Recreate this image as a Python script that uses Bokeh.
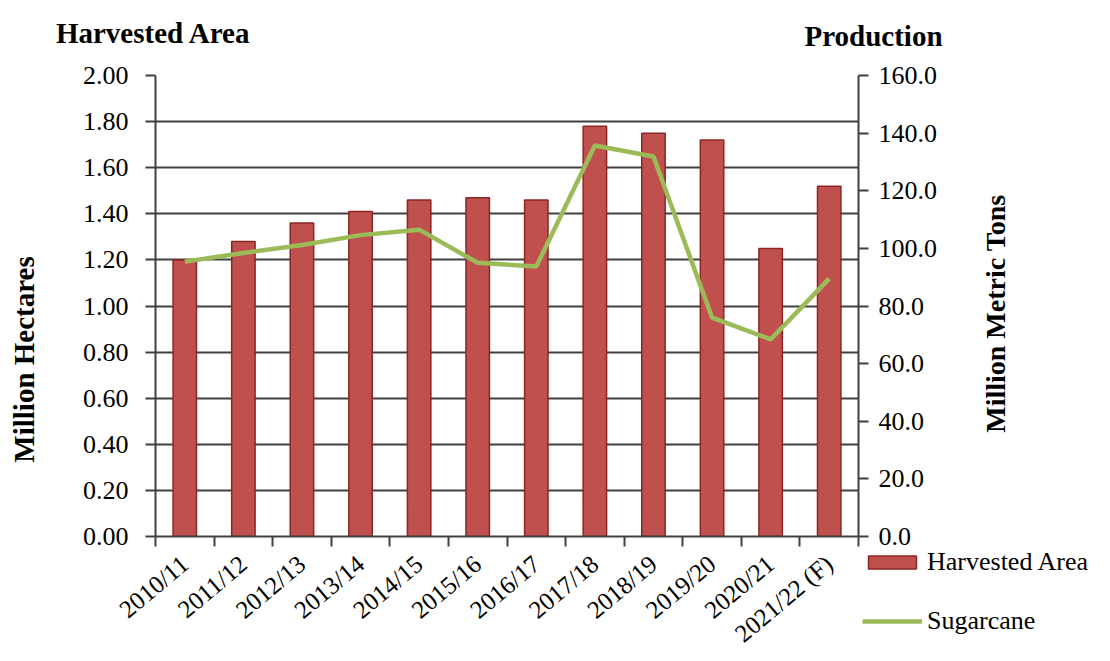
import math
from bokeh.plotting import figure
from bokeh.models import (Range1d, LinearAxis, FixedTicker, Label, Legend, LegendItem,
                          ColumnDataSource, NumeralTickFormatter)
from bokeh.embed import file_html
from bokeh.resources import INLINE

categories = ["2010/11", "2011/12", "2012/13", "2013/14", "2014/15", "2015/16",
              "2016/17", "2017/18", "2018/19", "2019/20", "2020/21", "2021/22 (F)"]
harvested_area = [1.20, 1.28, 1.36, 1.41, 1.46, 1.47, 1.46, 1.78, 1.75, 1.72, 1.25, 1.52]
sugarcane = [95.4, 98.4, 101.2, 104.6, 106.5, 95.0, 93.7, 135.7, 131.9, 76.0, 68.4, 89.5]
left_ticks = [0.0, 0.2, 0.4, 0.6, 0.8, 1.0, 1.2, 1.4, 1.6, 1.8, 2.0]
right_ticks = [0, 20, 40, 60, 80, 100, 120, 140, 160]

FONT = "Liberation Serif"
AXC = "#404040"
BAR_FILL = "#C0504D"
BAR_LINE = "#8A2624"
LINE_COL = "#9BBB59"
W, H = 1110, 661

xs = [i + 0.5 for i in range(len(categories))]
src = ColumnDataSource(dict(x=xs, area=harvested_area, cane=sugarcane))

p = figure(width=W, height=H, output_backend="svg", toolbar_location=None,
           x_range=Range1d(0, len(categories)), y_range=Range1d(0, 2.0),
           min_border_left=155, min_border_right=252, min_border_top=75, min_border_bottom=125)
p.outline_line_color = None
p.extra_y_ranges = {"right": Range1d(0, 160)}

bars = p.vbar(x="x", top="area", width=0.4, source=src, fill_color=BAR_FILL,
              line_color=BAR_LINE, line_width=1.5)
line = p.line(x="x", y="cane", source=src, y_range_name="right", line_color=LINE_COL,
              line_width=4.5)

# x axis: labels at category centres, tick marks at category boundaries
xax = p.xaxis[0]
xax.ticker = FixedTicker(ticks=xs, minor_ticks=list(range(len(categories) + 1)))
xax.major_label_overrides = {x: c for x, c in zip(xs, categories)}
xax.major_tick_out = 0
xax.major_tick_in = 0
xax.minor_tick_out = 10
xax.minor_tick_in = 0
xax.minor_tick_line_color = AXC
xax.minor_tick_line_width = 2
xax.axis_line_color = AXC
xax.axis_line_width = 2
xax.major_label_orientation = 0.70
xax.major_label_text_font = FONT
xax.major_label_text_font_size = "25px"
xax.major_label_text_color = "black"
xax.major_label_standoff = 14

# left axis
yax = p.yaxis[0]
yax.ticker = FixedTicker(ticks=left_ticks)
yax.formatter = NumeralTickFormatter(format="0.00")
yax.major_tick_out = 10
yax.major_tick_in = 0
yax.minor_tick_out = 0
yax.minor_tick_in = 0
yax.major_tick_line_color = AXC
yax.major_tick_line_width = 2
yax.axis_line_color = AXC
yax.axis_line_width = 2
yax.major_label_text_font = FONT
yax.major_label_text_font_size = "26px"
yax.major_label_text_color = "black"
yax.major_label_standoff = 17

# right axis
rax = LinearAxis(y_range_name="right", ticker=FixedTicker(ticks=right_ticks),
                 formatter=NumeralTickFormatter(format="0.0"))
rax.major_tick_out = 10
rax.major_tick_in = 0
rax.minor_tick_out = 0
rax.minor_tick_in = 0
rax.major_tick_line_color = AXC
rax.major_tick_line_width = 2
rax.axis_line_color = AXC
rax.axis_line_width = 2
rax.major_label_text_font = FONT
rax.major_label_text_font_size = "26px"
rax.major_label_text_color = "black"
rax.major_label_standoff = 10
p.add_layout(rax, "right")

p.xgrid.grid_line_color = None
p.ygrid.ticker = FixedTicker(ticks=left_ticks)
p.ygrid.grid_line_color = AXC
p.ygrid.grid_line_width = 2

# transparent overlay canvas (separate root, absolutely positioned on top)
ov = figure(width=W, height=H, output_backend="svg", toolbar_location=None,
            x_range=Range1d(0, W), y_range=Range1d(H, 0),
            x_axis_type=None, y_axis_type=None,
            min_border=0, min_border_left=0, min_border_right=0,
            min_border_top=0, min_border_bottom=0,
            styles={"position": "absolute", "top": "0px", "left": "0px", "z-index": "2"})
ov.grid.visible = False
ov.outline_line_color = None
ov.background_fill_alpha = 0
ov.border_fill_alpha = 0

def lab(x, y, text, size, bold=False, angle=0.0, align="left", baseline="alphabetic"):
    ov.add_layout(Label(x=x, y=y, text=text, text_font=FONT, text_font_size=size,
                        text_font_style="bold" if bold else "normal",
                        text_align=align, text_baseline=baseline, angle=angle,
                        text_color="black"))

lab(153, 32, "Harvested Area", "29px", bold=True, align="center")
lab(873, 35, "Production", "29px", bold=True, align="center")
lab(23, 359, "Million Hectares", "29px", bold=True, angle=math.pi / 2,
    align="center", baseline="middle")
lab(995, 313, "Million Metric Tons", "28px", bold=True, angle=math.pi / 2,
    align="center", baseline="middle")

# legend swatches: proxies styled like the series, holding no drawable point
nan = float("nan")
pb = ov.vbar(x=[nan], top=[nan], width=1, fill_color=BAR_FILL, line_color=BAR_LINE,
             line_width=1.5)
pl = ov.line(x=[nan], y=[nan], line_color=LINE_COL, line_width=4.5)
legend = Legend(items=[LegendItem(label="Harvested Area", renderers=[pb]),
                       LegendItem(label="Sugarcane", renderers=[pl])],
                location=(862, 25), orientation="vertical",
                glyph_width=60, glyph_height=16, label_height=30, spacing=29,
                padding=0, margin=0, label_standoff=5,
                label_text_font=FONT, label_text_font_size="26px", label_text_color="black",
                border_line_color=None, background_fill_alpha=0)
ov.add_layout(legend, "center")

open("out.html", "w").write(file_html([p, ov], INLINE))
